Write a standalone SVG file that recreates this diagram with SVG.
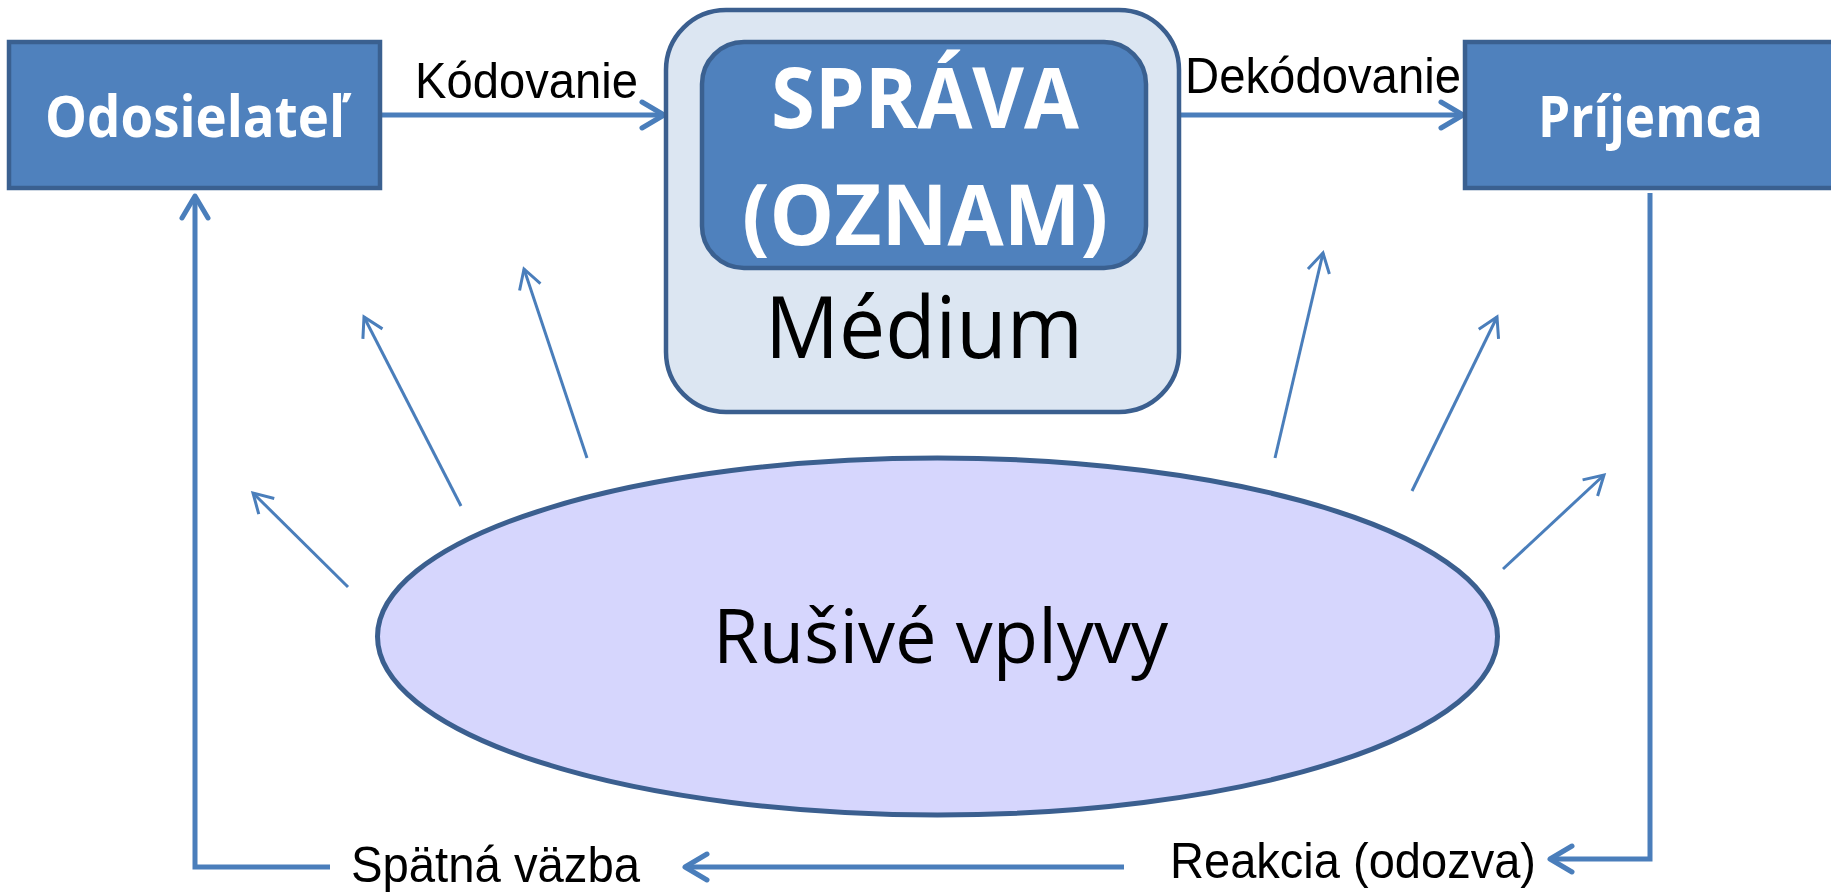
<svg xmlns="http://www.w3.org/2000/svg" width="1831" height="892" viewBox="0 0 1831 892">
<defs>
<style>
.box{fill:#4f81bd;stroke:#3a6090;stroke-width:4.5}
.bt{font-family:"Open Sans","DejaVu Sans",sans-serif;font-weight:bold;fill:#ffffff}
.rt{font-family:"Open Sans","DejaVu Sans",sans-serif;fill:#000000}
.lbl{font-family:"Liberation Sans",Arial,sans-serif;font-size:50px;fill:#000000}
.con{fill:none;stroke:#4a7ebb;stroke-width:5}
.thin{fill:none;stroke:#4a7ebb;stroke-width:3}
</style>
<marker id="big" markerUnits="userSpaceOnUse" markerWidth="40" markerHeight="40" viewBox="-30 -20 40 40" refX="0" refY="0" orient="auto" overflow="visible">
<path d="M-22,-13 L0,0 L-22,13" fill="none" stroke="#4a7ebb" stroke-width="5" stroke-linecap="round" stroke-linejoin="round"/>
</marker>
<marker id="small" markerUnits="userSpaceOnUse" markerWidth="30" markerHeight="30" viewBox="-25 -15 30 30" refX="0" refY="0" orient="auto" overflow="visible">
<path d="M-19,-11 L0,0 L-19,11" fill="none" stroke="#4a7ebb" stroke-width="3" stroke-linecap="butt" stroke-linejoin="miter"/>
</marker>
</defs>
<rect width="1831" height="892" fill="#ffffff"/>

<g id="connectors">
<line class="con" x1="382" y1="115" x2="664" y2="115" marker-end="url(#big)"/>
<line class="con" x1="1181" y1="115" x2="1463" y2="115" marker-end="url(#big)"/>
<polyline class="con" points="1650,193 1650,859 1550,859" marker-end="url(#big)"/>
<line class="con" x1="1124" y1="867" x2="685" y2="867" marker-end="url(#big)"/>
<polyline class="con" points="330,867 195,867 195,196" marker-end="url(#big)"/>
<line class="thin" x1="348" y1="587" x2="253" y2="493" marker-end="url(#small)"/>
<line class="thin" x1="461" y1="506" x2="364" y2="317" marker-end="url(#small)"/>
<line class="thin" x1="587" y1="458" x2="524" y2="269" marker-end="url(#small)"/>
<line class="thin" x1="1275" y1="458" x2="1323" y2="253" marker-end="url(#small)"/>
<line class="thin" x1="1412" y1="491" x2="1497" y2="317" marker-end="url(#small)"/>
<line class="thin" x1="1503" y1="569" x2="1604" y2="475" marker-end="url(#small)"/>
</g>

<g id="odosielatel">
<rect class="box" x="9" y="42" width="371" height="146"/>
<text class="bt" x="45" y="137" font-size="58" textLength="300" lengthAdjust="spacingAndGlyphs">Odosielateľ</text>
</g>

<g id="medium">
<rect x="666" y="10" width="513" height="402" rx="60" ry="60" fill="#dce6f2" stroke="#3b5f8f" stroke-width="4.5"/>
<text class="rt" x="765" y="358" font-size="86" textLength="318" lengthAdjust="spacingAndGlyphs">Médium</text>
</g>

<g id="sprava">
<rect class="box" x="702" y="42" width="444" height="226" rx="42" ry="42"/>
<text class="bt" x="771" y="128" font-size="85" textLength="308" lengthAdjust="spacingAndGlyphs">SPRÁVA</text>
<text class="bt" x="742" y="245" font-size="85" textLength="366" lengthAdjust="spacingAndGlyphs">(OZNAM)</text>
</g>

<g id="prijemca">
<rect class="box" x="1465" y="42" width="380" height="146"/>
<text class="bt" x="1538" y="137" font-size="58" textLength="225" lengthAdjust="spacingAndGlyphs">Príjemca</text>
</g>

<g id="rusive">
<ellipse cx="937.5" cy="636.5" rx="560" ry="178.5" fill="#d6d6fd" stroke="#3b5f8f" stroke-width="5"/>
<text class="rt" x="713" y="663" font-size="75" textLength="455" lengthAdjust="spacingAndGlyphs">Rušivé vplyvy</text>
</g>

<g id="labels">
<text class="lbl" x="415" y="98" textLength="223" lengthAdjust="spacingAndGlyphs">Kódovanie</text>
<text class="lbl" x="1185" y="93" textLength="276" lengthAdjust="spacingAndGlyphs">Dekódovanie</text>
<text class="lbl" x="351" y="882" textLength="289" lengthAdjust="spacingAndGlyphs">Spätná väzba</text>
<text class="lbl" x="1170" y="878" textLength="366" lengthAdjust="spacingAndGlyphs">Reakcia (odozva)</text>
</g>
</svg>
